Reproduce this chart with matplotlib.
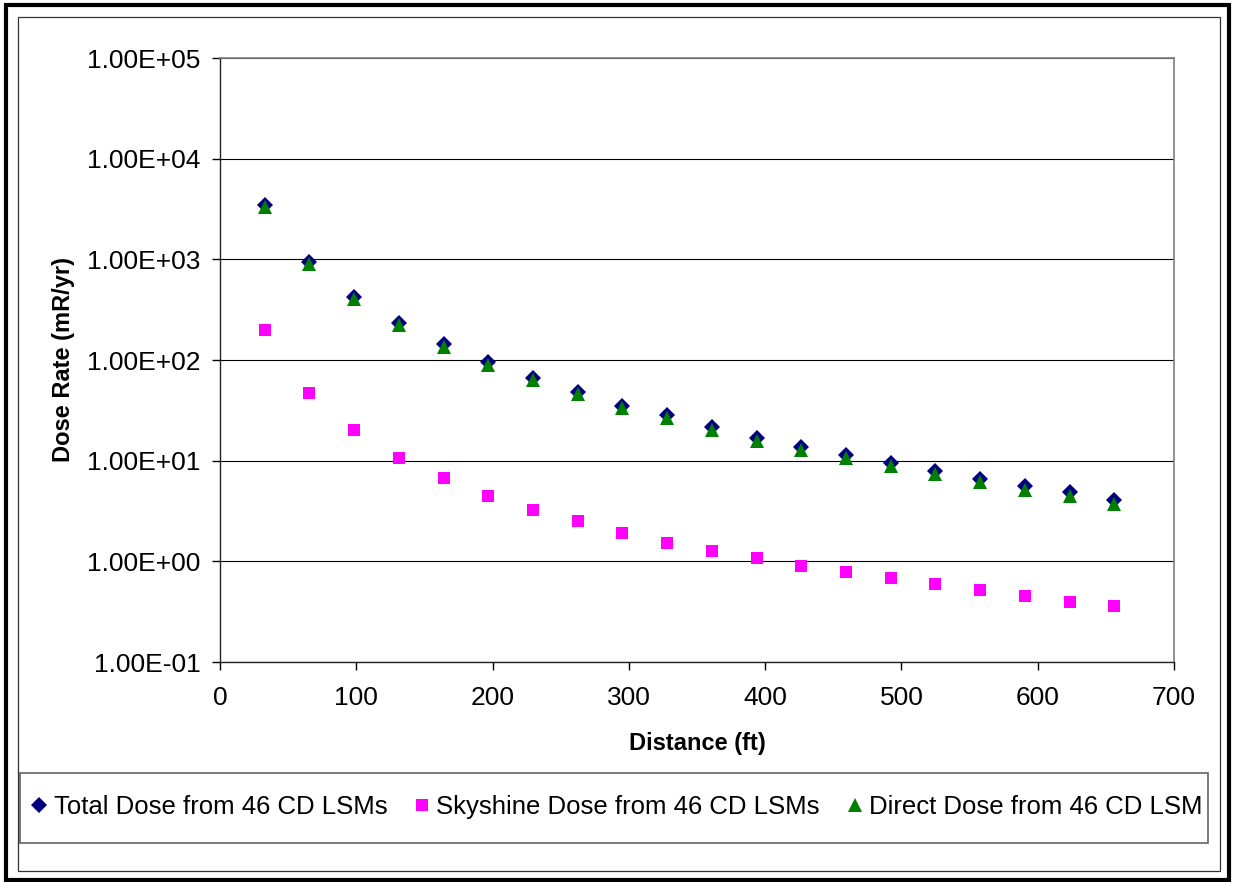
import matplotlib
matplotlib.use("Agg")
import matplotlib.pyplot as plt
from matplotlib.patches import Rectangle
from matplotlib.ticker import FixedLocator, FuncFormatter, NullLocator

plt.rcParams["font.family"] = ["Liberation Sans", "DejaVu Sans"]

# distances: 10 m steps, in feet
distance_ft = [32.8, 65.6, 98.4, 131.2, 164.0, 196.9, 229.7, 262.5, 295.3, 328.1,
               360.9, 393.7, 426.5, 459.3, 492.1, 524.9, 557.7, 590.6, 623.4, 656.2]

total_dose = [3500, 950, 420, 234, 143, 94.5, 66.4, 48.2, 35.3, 28.1,
              21.5, 16.9, 13.6, 11.4, 9.57, 7.92, 6.6, 5.58, 4.87, 4.06]
skyshine_dose = [200, 47, 20, 10.6, 6.76, 4.48, 3.25, 2.49, 1.91, 1.52,
                 1.28, 1.07, 0.89, 0.78, 0.68, 0.59, 0.515, 0.449, 0.39, 0.357]
direct_dose = [3300, 903, 400, 223, 136, 90, 63.2, 45.7, 33.4, 26.6,
               20.2, 15.8, 12.7, 10.6, 8.9, 7.33, 6.08, 5.13, 4.48, 3.70]

series_labels = ["Total Dose from 46 CD LSMs",
                 "Skyshine Dose from 46 CD LSMs",
                 "Direct Dose from 46 CD LSM"]

y_ticks = [1e-1, 1e0, 1e1, 1e2, 1e3, 1e4, 1e5]
x_ticks = [0, 100, 200, 300, 400, 500, 600, 700]

W, H = 1233, 882
fig = plt.figure(figsize=(W / 100, H / 100), dpi=100)
ax = fig.add_axes([220 / W, 1 - 662 / H, 954 / W, 604 / H])

h1, = ax.plot(distance_ft, total_dose, ls="none", marker="D", ms=8.3,
              color="#000080", mew=0, label=series_labels[0])
h2, = ax.plot(distance_ft, skyshine_dose, ls="none", marker="s", ms=8.8,
              color="#FF00FF", mew=0, label=series_labels[1])
h3, = ax.plot(distance_ft, direct_dose, ls="none", marker="^", ms=10,
              color="#008000", mew=0, label=series_labels[2])

ax.set_yscale("log")
ax.set_ylim(1e-1, 1e5)
ax.set_xlim(0, 700)
ax.yaxis.set_major_locator(FixedLocator(y_ticks))
ax.yaxis.set_minor_locator(NullLocator())
ax.yaxis.set_major_formatter(FuncFormatter(lambda v, p: f"{v:.2E}"))
ax.xaxis.set_major_locator(FixedLocator(x_ticks))

ax.yaxis.grid(True, color="black", lw=0.8)
ax.set_axisbelow(True)

for side in ["top", "right"]:
    ax.spines[side].set_color("#808080")
    ax.spines[side].set_linewidth(1.2)
for side in ["left", "bottom"]:
    ax.spines[side].set_color("#222222")
    ax.spines[side].set_linewidth(1.0)

ax.tick_params(axis="both", direction="out", length=6, width=1.0, labelsize=19)
ax.tick_params(axis="y", pad=8)
ax.tick_params(axis="x", pad=11)

ax.set_xlabel("Distance (ft)", fontsize=17, fontweight="bold", labelpad=16)
ax.set_ylabel("Dose Rate (mR/yr)", fontsize=17, fontweight="bold", labelpad=9)

# legend box
fig.patches.append(Rectangle((19.5 / W, 1 - 842.5 / H), (1208 - 19.5) / W, 69.5 / H,
                             transform=fig.transFigure, fill=False,
                             ec="#707070", lw=1.3))
fig.legend(handles=[h1, h2, h3], loc="center", ncol=3,
           bbox_to_anchor=(617 / W, 1 - 807 / H), frameon=False, fontsize=18.5,
           handlelength=0.6, handletextpad=0.26, columnspacing=1.05,
           borderpad=0, borderaxespad=0)

# chart area border and outer frame
fig.patches.append(Rectangle((17.5 / W, 1 - 870.7 / H), (1219.7 - 17.5) / W,
                             (870.7 - 16.7) / H, transform=fig.transFigure,
                             fill=False, ec="#333333", lw=0.9))
fig.patches.append(Rectangle((6 / W, 1 - 879.5 / H), (1228.5 - 6) / W,
                             (879.5 - 5.3) / H, transform=fig.transFigure,
                             fill=False, ec="black", lw=3.0))

fig.savefig("out.png", dpi=100)
